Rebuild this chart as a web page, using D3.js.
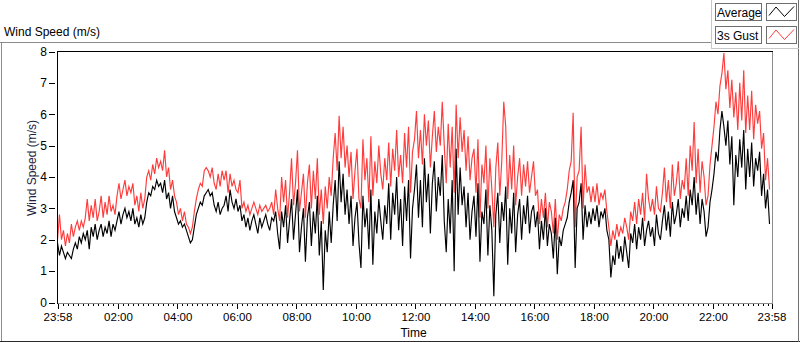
<!DOCTYPE html>
<html>
<head>
<meta charset="utf-8">
<script src="https://cdn.jsdelivr.net/npm/d3@7"></script>
<style>
  body { margin: 0; background: #fff; }
  svg { display: block; font-family: "Liberation Sans", Arial, sans-serif; }
</style>
</head>
<body>
<div id="chart"></div>
<script>
// one sample every 4 minutes, 15 per hour, starting 23:58
const sampleMinutes = 4;
const startTime = new Date(2000, 0, 1, 23, 58);
const endTime = new Date(2000, 0, 2, 23, 58);

const yTicks = [0, 1, 2, 3, 4, 5, 6, 7, 8];
const timeLabels = ["23:58", "02:00", "04:00", "06:00", "08:00", "10:00", "12:00",
                    "14:00", "16:00", "18:00", "20:00", "22:00", "23:58"];
const seriesNames = ["Average", "3s Gust"];

// Average wind speed (m/s), one row per hour
const avgValues = [
  1.9, 1.5, 1.8, 1.6, 1.4, 1.6, 1.5, 1.4, 1.7, 1.9, 1.7, 2.1, 1.9, 2.2, 2.0,
  2.3, 1.7, 2.4, 2.1, 2.5, 2.0, 2.3, 2.5, 2.1, 2.4, 2.2, 2.6, 2.1, 2.5, 2.3,
  2.6, 2.9, 2.5, 2.8, 3.0, 2.7, 2.9, 2.6, 3.0, 2.5, 2.7, 2.4, 2.8, 2.5, 2.7,
  3.2, 3.5, 3.4, 3.7, 3.6, 3.9, 3.7, 3.8, 3.5, 3.9, 3.3, 3.5, 3.0, 3.4, 2.9,
  2.7, 2.5, 2.6, 2.4, 2.5, 2.3, 2.1, 1.9, 2.0, 2.4, 2.8, 3.0, 3.2, 3.1, 3.4,
  3.5, 3.6, 3.4, 3.5, 3.1, 2.9, 3.2, 2.8, 3.0, 3.1, 3.4, 2.9, 3.6, 3.2, 3.0,
  3.3, 2.9, 3.1, 2.6, 2.8, 2.4, 2.7, 2.3, 2.6, 2.8, 2.5, 2.2, 2.7, 2.4, 2.6,
  2.8, 2.5, 2.3, 2.7, 2.6, 2.9, 2.2, 1.7, 2.9, 2.4, 3.1, 1.9, 2.6, 3.3, 2.0,
  2.8, 3.6, 1.6, 2.4, 3.0, 1.3, 2.7, 3.2, 1.8, 2.9, 2.2, 3.4, 1.5, 2.6, 0.4,
  2.3, 1.6, 2.9, 1.9, 3.1, 3.9, 2.6, 4.5, 3.2, 4.1, 2.8, 3.6, 2.5, 3.4, 1.8,
  2.7, 3.2, 1.9, 1.1, 3.4, 2.4, 3.0, 1.7, 3.6, 1.2, 2.9, 2.2, 3.3, 2.6, 2.0,
  3.1, 2.5, 3.8, 2.0, 3.5, 2.8, 4.0, 2.3, 3.3, 1.8, 3.7, 2.6, 3.9, 1.4, 3.0,
  3.6, 4.4, 2.7, 3.9, 2.4, 4.6, 3.2, 4.1, 2.2, 3.8, 4.5, 2.9, 4.0, 3.4, 4.7,
  2.6, 1.6, 3.3, 2.2, 3.9, 1.0, 4.9, 2.8, 4.3, 3.1, 3.7, 2.4, 3.5, 2.0, 2.9,
  3.4, 2.1, 3.8, 1.3, 2.9, 2.5, 3.6, 1.5, 3.1, 2.3, 0.2, 2.8, 3.5, 1.9, 3.2,
  2.6, 3.7, 1.2, 3.0, 2.2, 3.5, 1.6, 2.8, 3.3, 2.0, 3.1, 2.5, 3.4, 2.2, 2.9,
  3.1, 2.4, 2.9, 1.7, 2.6, 2.0, 3.0, 1.8, 2.5, 2.2, 1.4, 2.7, 0.9, 2.1, 1.8,
  2.3, 2.5, 2.7, 3.2, 3.5, 3.9, 1.1, 3.0, 3.2, 3.8, 2.0, 3.1, 2.4, 2.9, 2.5,
  3.0, 2.6, 3.1, 2.4, 2.9, 2.7, 3.0, 2.3, 2.0, 0.8, 1.5, 1.2, 2.0, 1.4, 1.8,
  1.3, 2.1, 1.6, 1.1, 2.2, 1.9, 2.5, 1.7, 2.4, 2.0, 2.7, 1.8, 2.3, 2.6, 2.1,
  2.4, 1.8, 2.8, 2.2, 2.0, 2.6, 3.1, 2.3, 2.9, 2.1, 3.2, 2.5, 2.8, 3.3, 2.4,
  3.0, 2.7, 3.4, 2.6, 3.6, 3.1, 4.0, 2.8, 3.5, 2.5, 3.3, 2.9, 2.1, 2.4, 3.2,
  3.6, 4.1, 4.8, 4.5, 5.5, 6.1, 5.6, 5.0, 5.8, 4.4, 5.3, 3.1, 4.7, 4.0, 5.2,
  4.3, 5.5, 3.6, 4.9, 4.0, 5.1, 3.7, 4.6, 4.2, 4.8, 3.4, 4.1, 3.0, 3.6, 2.5
];

// 3 second gust (m/s), one row per hour
const gustValues = [
  2.0, 2.8, 2.0, 2.3, 1.8, 2.2, 1.9, 2.5, 2.1, 2.4, 2.6, 2.3, 2.6, 2.4, 2.7,
  3.3, 2.6, 3.1, 2.7, 3.3, 2.6, 2.9, 3.4, 2.7, 3.2, 2.8, 3.4, 2.9, 3.1, 2.8,
  3.4, 3.8, 3.3, 3.6, 3.9, 3.4, 3.7, 3.5, 3.8, 3.1, 3.4, 2.9, 3.5, 3.0, 3.3,
  4.0, 4.2, 3.9, 4.4, 4.1, 4.6, 4.3, 4.5, 4.2, 4.85, 4.0, 4.3, 3.6, 3.9, 3.4,
  3.2, 2.8, 3.0, 2.6, 2.9, 2.5, 2.4, 2.2, 2.4, 2.9, 3.3, 3.6, 3.8, 3.7, 4.2,
  4.3, 4.2, 4.0, 4.3, 3.8, 3.6, 4.1, 3.7, 4.2, 3.9, 4.2, 3.5, 4.1, 3.7, 3.9,
  3.6, 3.5, 3.9, 3.0, 3.2, 2.9, 3.1, 2.8, 3.0, 3.2, 3.0, 2.8, 3.1, 2.9, 3.0,
  3.1, 2.9, 3.0, 3.2, 2.8, 3.6, 3.0, 2.6, 4.0, 3.2, 3.9, 2.7, 3.5, 4.6, 3.1,
  3.8, 4.85, 2.9, 3.5, 4.1, 2.7, 3.8, 4.4, 3.0, 4.2, 3.3, 4.6, 2.8, 3.6, 2.5,
  3.7, 3.0, 4.0, 3.4, 4.6, 5.4, 4.2, 5.95, 4.6, 5.6, 4.3, 5.0, 4.0, 4.8, 3.3,
  4.2, 4.9, 3.3, 3.0, 5.2, 3.9, 4.6, 3.2, 5.3, 3.4, 4.5, 3.8, 5.0, 4.1, 3.6,
  4.6, 3.9, 5.1, 3.7, 4.9, 4.2, 5.5, 4.0, 4.7, 3.8, 5.4, 4.3, 5.6, 3.5, 4.8,
  5.2, 6.1, 4.6, 5.5, 4.4, 6.0, 5.0, 5.8, 4.3, 5.3, 6.1, 4.8, 5.6, 5.0, 6.4,
  5.0, 3.8, 5.7, 4.3, 5.6, 3.5, 6.3, 4.6, 5.9, 4.8, 5.5, 4.2, 5.3, 3.9, 4.6,
  4.9, 3.5, 5.2, 2.7, 4.4, 3.8, 5.0, 3.0, 4.6, 3.6, 2.4, 4.3, 5.1, 3.4, 4.5,
  6.4, 5.6, 3.3, 4.7, 3.6, 5.0, 3.1, 4.0, 4.6, 3.4, 4.4, 3.7, 4.5, 3.5, 4.0,
  4.5, 3.4, 3.6, 2.5, 3.3, 2.7, 3.5, 2.4, 3.2, 2.9, 2.2, 3.3, 2.0, 2.8, 2.6,
  3.0, 3.2, 3.6, 4.2, 4.5, 6.05, 2.4, 4.0, 4.2, 5.6, 3.0, 4.4, 3.5, 3.7, 3.2,
  3.7, 3.2, 3.8, 3.1, 3.5, 3.3, 3.6, 2.9, 2.4, 1.8, 2.3, 2.0, 2.5, 2.1, 2.4,
  2.2, 2.7, 2.4, 2.0, 2.9, 2.6, 3.2, 2.5, 3.3, 2.8, 3.5, 2.6, 4.1, 3.3, 2.9,
  3.3, 2.8, 3.7, 3.0, 2.9, 3.5, 4.3, 3.2, 3.9, 3.0, 4.4, 3.4, 3.8, 4.5, 3.3,
  3.9, 3.6, 4.6, 3.4, 5.0, 4.2, 5.75, 3.8, 4.9, 3.5, 4.5, 4.0, 3.1, 3.4, 4.4,
  5.0, 5.6, 6.4, 6.0, 6.9, 7.3, 7.95, 6.8, 7.4, 6.2, 7.1, 5.9, 6.7, 5.5, 7.0,
  5.8, 7.4, 5.4, 6.6, 5.5, 6.75, 5.2, 6.3, 5.7, 6.1, 4.9, 5.4, 3.9, 4.6, 3.6
];

let dimensions = {
  width: 800,
  height: 342,
  plot: { left: 57.5, right: 771.5, top: 51.5, bottom: 302.5 }
};

let svg = d3.select('#chart')
  .append('svg')
  .attr('width', dimensions.width)
  .attr('height', dimensions.height);

let x = d3.scaleTime()
  .domain([startTime, endTime])
  .range([dimensions.plot.left, dimensions.plot.right]);

let y = d3.scaleLinear()
  .domain([0, 8])
  .range([dimensions.plot.bottom, dimensions.plot.top]);

let timeOf = i => new Date(startTime.getTime() + i * sampleMinutes * 60000);

// outer frame
let frame = svg.append('g').attr('shape-rendering', 'crispEdges');
frame.append('line').attr('x1', 0).attr('x2', 711).attr('y1', 42.5).attr('y2', 42.5).attr('stroke', '#8c8c8c');
frame.append('line').attr('x1', 1.5).attr('x2', 1.5).attr('y1', 42).attr('y2', 342).attr('stroke', '#8c8c8c');
frame.append('line').attr('x1', 0).attr('x2', 800).attr('y1', 341.5).attr('y2', 341.5).attr('stroke', '#2a2a2a');
frame.append('line').attr('x1', 798.5).attr('x2', 798.5).attr('y1', 0).attr('y2', 342).attr('stroke', '#707070');
frame.append('line').attr('x1', 711.5).attr('x2', 711.5).attr('y1', 0).attr('y2', 49).attr('stroke', '#c8c8c8');
frame.append('line').attr('x1', 711).attr('x2', 799).attr('y1', 48.5).attr('y2', 48.5).attr('stroke', '#c8c8c8');

svg.append('text')
  .attr('x', 4)
  .attr('y', 36)
  .style('font-size', '12px')
  .attr('fill', '#000')
  .text('Wind Speed (m/s)');

// plot borders
frame.append('line').attr('x1', 57).attr('x2', 773).attr('y1', 51.5).attr('y2', 51.5).attr('stroke', '#000');
frame.append('line').attr('x1', 57.5).attr('x2', 57.5).attr('y1', 51).attr('y2', 304).attr('stroke', '#000');
frame.append('line').attr('x1', 772.5).attr('x2', 772.5).attr('y1', 52).attr('y2', 304).attr('stroke', '#8c8c8c');
frame.append('line').attr('x1', 58).attr('x2', 773).attr('y1', 303.5).attr('y2', 303.5).attr('stroke', '#8c8c8c');

// y axis
let yAxis = svg.append('g')
  .attr('transform', 'translate(55,0)')
  .call(d3.axisLeft(y).tickValues(yTicks).tickSize(6).tickPadding(2).tickFormat(d3.format('d')));
yAxis.select('.domain').remove();
yAxis.selectAll('line').attr('stroke', '#000').attr('shape-rendering', 'crispEdges');
yAxis.selectAll('text').style('font-size', '12px').attr('fill', '#000').attr('font-family', null);

svg.append('text')
  .attr('transform', 'translate(36,168) rotate(-90)')
  .attr('text-anchor', 'middle')
  .style('font-size', '12px')
  .attr('fill', '#1e1e40')
  .text('Wind Speed (m/s)');

// x axis: minor ticks every 10 minutes, major ticks at the labels
let majorDates = timeLabels.map((s, i) => {
  if (i === 0) return startTime;
  if (i === timeLabels.length - 1) return endTime;
  let [h, m] = s.split(':').map(Number);
  return new Date(2000, 0, 2, h, m);
});

let minorAxis = svg.append('g')
  .attr('transform', 'translate(0,304)')
  .call(d3.axisBottom(x).tickValues(d3.timeMinute.every(10).range(startTime, endTime)).tickSize(2).tickFormat(''));
minorAxis.select('.domain').remove();
minorAxis.selectAll('line').attr('stroke', '#000').attr('shape-rendering', 'crispEdges');

let xAxis = svg.append('g')
  .attr('transform', 'translate(0,304)')
  .call(d3.axisBottom(x).tickValues(majorDates).tickSize(5).tickPadding(4).tickFormat((d, i) => timeLabels[i]));
xAxis.select('.domain').remove();
xAxis.selectAll('line').attr('stroke', '#000').attr('shape-rendering', 'crispEdges');
xAxis.selectAll('text').style('font-size', '11.5px').attr('fill', '#000').attr('font-family', null);

svg.append('text')
  .attr('x', 413.5)
  .attr('y', 337)
  .attr('text-anchor', 'middle')
  .style('font-size', '12px')
  .attr('fill', '#000')
  .text('Time');

// series
svg.append('clipPath').attr('id', 'plotClip')
  .append('rect')
  .attr('x', 58).attr('y', 51).attr('width', 714).attr('height', 252);

let line = d3.line()
  .x((d, i) => x(timeOf(i)))
  .y(d => y(d));

let plot = svg.append('g').attr('clip-path', 'url(#plotClip)');

plot.append('path')
  .attr('d', line(gustValues))
  .attr('fill', 'none')
  .attr('stroke', '#ff3c3c')
  .attr('stroke-width', 1.15);

plot.append('path')
  .attr('d', line(avgValues))
  .attr('fill', 'none')
  .attr('stroke', '#000')
  .attr('stroke-width', 1.15);

// legend
let legendColors = ['#000', '#ff3c3c'];
let legend = svg.append('g');
seriesNames.forEach((name, i) => {
  let top = 3.5 + i * 23;
  legend.append('rect')
    .attr('x', 715.5).attr('y', top).attr('width', 46).attr('height', 17)
    .attr('fill', '#fff').attr('stroke', '#6e6e6e').attr('shape-rendering', 'crispEdges');
  legend.append('text')
    .attr('x', 717).attr('y', top + 13.5)
    .style('font-size', '12px').attr('fill', '#000')
    .text(name);
  legend.append('rect')
    .attr('x', 766.5).attr('y', top).attr('width', 30).attr('height', 17)
    .attr('fill', '#fff').attr('stroke', '#6e6e6e').attr('shape-rendering', 'crispEdges');
  legend.append('polyline')
    .attr('points', [[769, top + 12], [776, top + 3.5], [784.5, top + 13], [794, top + 3]].join(' '))
    .attr('fill', 'none')
    .attr('stroke', legendColors[i])
    .attr('stroke-width', 1);
});
</script>
</body>
</html>
